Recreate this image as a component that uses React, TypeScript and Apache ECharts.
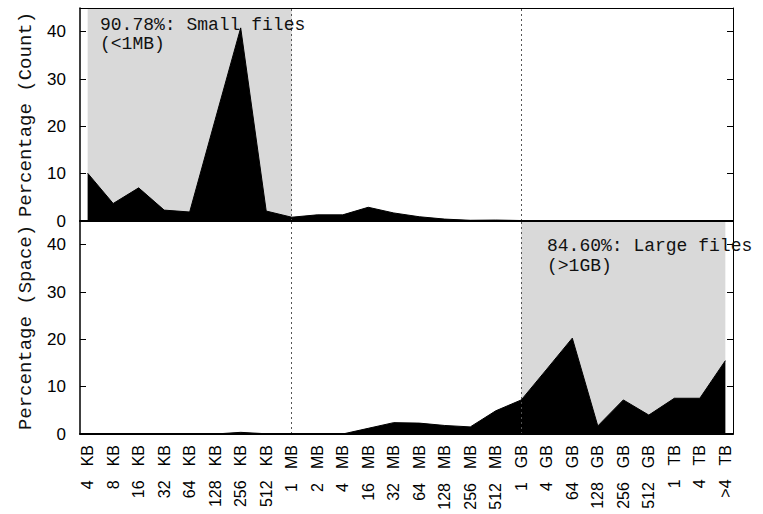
import React, { useEffect, useRef } from 'react';
import * as echarts from 'echarts';

const categories = ['4 KB', '8 KB', '16 KB', '32 KB', '64 KB', '128 KB', '256 KB', '512 KB', '1 MB', '2 MB', '4 MB', '16 MB', '32 MB', '64 MB', '128 MB', '256 MB', '512 MB', '1 GB', '4 GB', '64 GB', '128 GB', '256 GB', '512 GB', '1 TB', '4 TB', '>4 TB'];
const countPct = [10.1, 3.7, 7.0, 2.3, 1.9, 21.4, 40.8, 2.1, 0.8, 1.3, 1.3, 2.9, 1.7, 0.9, 0.4, 0.15, 0.2, 0.1, 0, 0, 0, 0, 0, 0, 0, 0];
const spacePct = [0, 0, 0, 0, 0, 0, 0.35, 0.05, 0, 0, 0, 1.2, 2.4, 2.3, 1.8, 1.5, 4.9, 7.2, 13.7, 20.25, 1.7, 7.2, 4.0, 7.55, 7.55, 15.5];
const yTickLabels = [0, 10, 20, 30, 40];
const yMirrorTicks = [10, 20, 30, 40];
const smallRange = [0, 8];
const largeRange = [17, 25];
const dividers = [8, 17];
const smallNote = '90.78%: Small files\n(<1MB)';
const largeNote = '84.60%: Large files\n(>1GB)';
const countTitle = 'Percentage (Count)';
const spaceTitle = 'Percentage (Space)';

const SANS = '"Liberation Sans", Arial, Helvetica, sans-serif';
const MONO = '"Liberation Mono", "Courier New", Courier, monospace';
const X_MIN = -0.3;
const X_MAX = 25.3;
const idx = categories.map((_, i) => i);

function labelFor(v: number) {
  const c = categories[Math.round(v)];
  if (!c) return '';
  const sp = c.indexOf(' ');
  return `{n|${c.slice(0, sp)}}{u|${c.slice(sp + 1)}}`;
}

function bottomX(gridIndex: number, showLabels: boolean) {
  return {
    type: 'value', gridIndex, min: X_MIN, max: X_MAX, position: 'bottom', z: 10,
    axisLine: { show: true, onZero: false, lineStyle: { color: '#000', width: 2 } },
    axisTick: { show: false },
    splitLine: { show: false },
    axisLabel: showLabels
      ? {
          show: true, customValues: idx, rotate: 90, margin: 11,
          formatter: labelFor,
          fontFamily: SANS, fontSize: 16, color: '#000',
          rich: {
            n: { fontFamily: SANS, fontSize: 16, color: '#000', padding: [0, 14, 0, 0] },
            u: { fontFamily: SANS, fontSize: 16, color: '#000' },
          },
        }
      : { show: false },
  };
}
function topX(gridIndex: number) {
  return {
    type: 'value', gridIndex, min: X_MIN, max: X_MAX, position: 'top', z: 10,
    axisLine: { show: true, onZero: false, lineStyle: { color: '#000', width: 1 } },
    axisTick: { show: false }, axisLabel: { show: false }, splitLine: { show: false },
  };
}
function leftY(gridIndex: number, name: string) {
  return {
    type: 'value', gridIndex, min: 0, max: 45, position: 'left', z: 10,
    axisLine: { show: true, onZero: false, lineStyle: { color: '#000', width: 1.5 } },
    axisTick: { show: true, inside: true, length: 6, customValues: yMirrorTicks, lineStyle: { color: '#000' } },
    axisLabel: { show: true, customValues: yTickLabels, margin: 14, fontFamily: SANS, fontSize: 17, color: '#000' },
    splitLine: { show: false },
    name, nameLocation: 'middle', nameRotate: 90, nameGap: 45,
    nameTextStyle: { fontFamily: MONO, fontSize: 19, color: '#111' },
  };
}
function rightY(gridIndex: number) {
  return {
    type: 'value', gridIndex, min: 0, max: 45, position: 'right', z: 10,
    axisLine: { show: true, onZero: false, lineStyle: { color: '#000', width: 1 } },
    axisTick: { show: true, inside: true, length: 6, customValues: yMirrorTicks, lineStyle: { color: '#000' } },
    axisLabel: { show: false }, splitLine: { show: false },
  };
}
function dataSeries(axisIndex: number, values: number[]) {
  return {
    type: 'line', xAxisIndex: axisIndex, yAxisIndex: axisIndex, z: 3, silent: true,
    data: values.map((v, i) => [i, v]), symbol: 'none',
    lineStyle: { color: '#000', width: 1 },
    areaStyle: { color: '#000', opacity: 1 },
  };
}
function markSeries(axisIndex: number, range: number[] | null) {
  return {
    type: 'line', xAxisIndex: axisIndex, yAxisIndex: axisIndex, z: 1, silent: true,
    data: [], symbol: 'none',
    markArea: range
      ? { silent: true, itemStyle: { color: '#d9d9d9' }, data: [[{ xAxis: range[0] }, { xAxis: range[1] }]] }
      : undefined,
    markLine: {
      silent: true, symbol: ['none', 'none'], label: { show: false },
      lineStyle: { type: [2, 3], color: '#555', width: 1 },
      data: dividers.map((d) => ({ xAxis: d })),
    },
  };
}

export default function App() {
  const ref = useRef<HTMLDivElement>(null);
  useEffect(() => {
    if (!ref.current) return;
    const chart = echarts.init(ref.current, null, { renderer: 'svg' });
    chart.setOption({
      animation: false,
      backgroundColor: '#fff',
      grid: [
        { left: 80, top: 8, width: 653, height: 213, outerBoundsMode: 'none', containLabel: false },
        { left: 80, top: 221, width: 653, height: 213, outerBoundsMode: 'none', containLabel: false },
      ],
      xAxis: [bottomX(0, false), bottomX(1, true), topX(0), topX(1)],
      yAxis: [leftY(0, countTitle), leftY(1, spaceTitle), rightY(0), rightY(1)],
      series: [
        markSeries(0, smallRange),
        markSeries(1, largeRange),
        dataSeries(0, countPct),
        dataSeries(1, spacePct),
      ],
      graphic: [
        { type: 'text', left: 100, top: 15, z: 20, style: { text: smallNote, font: `18px ${MONO}`, fill: '#111', lineHeight: 19 } },
        { type: 'text', left: 547, top: 236, z: 20, style: { text: largeNote, font: `18px ${MONO}`, fill: '#111', lineHeight: 20 } },
      ],
    });
    return () => chart.dispose();
  }, []);
  return <div ref={ref} style={{ position: 'fixed', left: 0, top: 0, width: 763, height: 514, background: '#fff' }} />;
}
